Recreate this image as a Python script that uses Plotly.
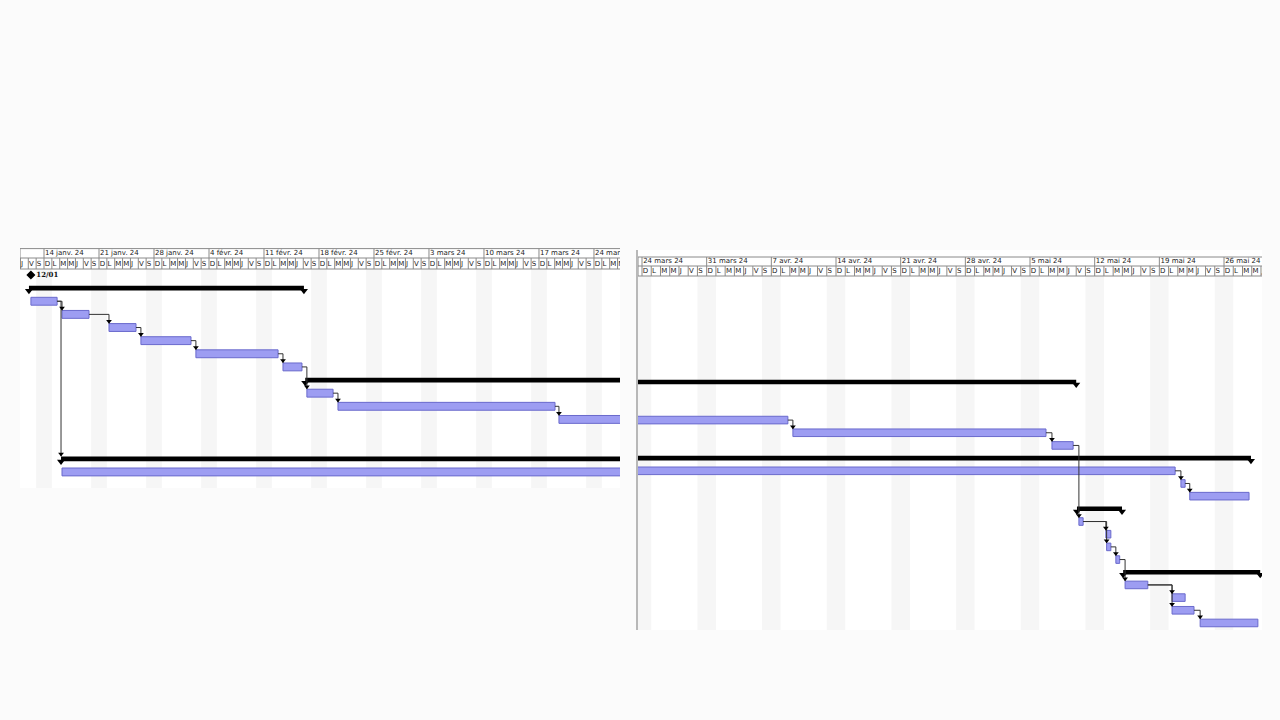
import pandas as pd
import plotly.graph_objects as go

# ---------------- data ----------------
task_rows = [2, 3, 4, 5, 6, 7, 9, 10, 11, 12, 13, 15, 16, 17, 19, 20, 21, 22, 24, 25, 26, 27]
task_start = ["2024-01-12 08:00", "2024-01-16 07:00", "2024-01-22 06:30", "2024-01-26 08:00",
              "2024-02-02 08:00", "2024-02-13 10:00", "2024-02-16 11:00", "2024-02-20 10:00",
              "2024-03-19 13:00", "2024-04-09 08:00", "2024-05-07 09:00", "2024-01-16 07:00",
              "2024-05-21 08:00", "2024-05-22 07:00", "2024-05-10 07:00", "2024-05-13 05:00",
              "2024-05-13 07:00", "2024-05-14 07:00", "2024-05-15 07:00", "2024-05-20 09:00",
              "2024-05-20 09:00", "2024-05-23 10:00"]
task_end = ["2024-01-15 16:00", "2024-01-19 17:30", "2024-01-25 17:00", "2024-02-01 17:00",
            "2024-02-12 19:00", "2024-02-15 20:00", "2024-02-19 19:00", "2024-03-19 01:00",
            "2024-04-08 19:00", "2024-05-06 17:30", "2024-05-09 16:00", "2024-05-20 17:00",
            "2024-05-21 19:00", "2024-05-28 17:00", "2024-05-10 18:00", "2024-05-13 18:00",
            "2024-05-13 18:00", "2024-05-14 17:00", "2024-05-17 18:00", "2024-05-21 19:00",
            "2024-05-22 18:00", "2024-05-29 16:00"]

summary_rows = [1, 8, 14, 18, 23]
summary_start = ["2024-01-12 02:00", "2024-02-16 06:00", "2024-01-16 04:00",
                 "2024-05-10 02:00", "2024-05-15 02:00"]
summary_end = ["2024-02-16 02:00", "2024-05-10 00:00", "2024-05-28 22:00",
               "2024-05-14 23:00", "2024-05-29 22:00"]

milestone_rows = [0]
milestone_dates = ["2024-01-12 08:00"]
milestone_labels = ["12/01"]

link_from = [2, 2, 3, 4, 5, 6, 7, 9, 10, 11, 12, 13, 15, 16, 19, 19, 21, 22, 24, 24, 26]
link_to = [3, 14, 4, 5, 6, 7, 9, 10, 11, 12, 13, 19, 16, 17, 20, 21, 22, 24, 25, 26, 27]

day_letters = ["L", "M", "M", "J", "V", "S", "D"]  # Monday .. Sunday
month_abbr = {1: "janv.", 2: "févr.", 3: "mars", 4: "avr.", 5: "mai", 6: "juin"}

# ---------------- helpers ----------------
ts = pd.to_datetime(task_start)
te = pd.to_datetime(task_end)
ss = pd.to_datetime(summary_start)
se = pd.to_datetime(summary_end)
md = pd.to_datetime(milestone_dates)

items = {}
for r, a, b in zip(task_rows, ts, te):
    items[r] = (a, b, "task")
for r, a, b in zip(summary_rows, ss, se):
    items[r] = (a, b, "summary")

W, H = 1280, 720
panels = [
    dict(xa="x", ya="y", xdom=(20, 620), ydom=(248, 488),
         xr=("2024-01-10 22:40", "2024-03-27 07:30"), y0px=275.0, pitch=13.13,
         hdr=(248.6, 258, 269), txt=(253, 264), border=False),
    dict(xa="x2", ya="y2", xdom=(638, 1262), ydom=(250, 630),
         xr=("2024-03-23 13:36", "2024-05-30 02:40"), y0px=280.6, pitch=12.68,
         hdr=(257, 266, 276), txt=(261.5, 271), border=True),
]

BAR_FILL = "#9d9df2"
BAR_LINE = "#6a6acc"

fig = go.Figure()
shapes = []
layout_axes = {}

for i, p in enumerate(panels):
    xa, ya = p["xa"], p["ya"]
    to_row = lambda px, p=p: (px - p["y0px"]) / p["pitch"]
    x0, x1 = pd.Timestamp(p["xr"][0]), pd.Timestamp(p["xr"][1])
    y_top, y_mid, y_bot = [to_row(v) for v in p["hdr"]]
    y_wtxt, y_dtxt = [to_row(v) for v in p["txt"]]
    y_lo = to_row(p["ydom"][1])
    y_hi = to_row(p["ydom"][0])

    first_day = x0.ceil("D")
    days = pd.date_range(first_day, x1, freq="D")

    # weekend shading (Saturday + Sunday)
    for d in pd.date_range(first_day - pd.Timedelta(days=1), x1, freq="D"):
        if d.dayofweek == 5:
            shapes.append(dict(type="rect", xref=xa, yref=ya, x0=d, x1=d + pd.Timedelta(days=2),
                               y0=y_bot, y1=y_lo, fillcolor="#f6f6f6", line=dict(width=0),
                               layer="below"))

    # header grid
    hx, hy = [], []
    for yy in (y_top, y_mid, y_bot):
        hx += [x0, x1, None]
        hy += [yy, yy, None]
    for d in days:
        hx += [d, d, None]
        hy += [y_mid, y_bot, None]
        if d.dayofweek == 6:
            hx += [d, d, None]
            hy += [y_top, y_mid, None]
    hx += [x0, x0, None]
    hy += [y_top, y_bot, None]
    fig.add_trace(go.Scatter(x=hx, y=hy, mode="lines", line=dict(color="#8a8a8a", width=1),
                             xaxis=xa, yaxis=ya, hoverinfo="skip", showlegend=False))

    # header texts
    sundays = [d for d in days if d.dayofweek == 6]
    fig.add_trace(go.Scatter(
        x=[d + pd.Timedelta(hours=3) for d in sundays], y=[y_wtxt] * len(sundays),
        text=[f"{d.day} {month_abbr[d.month]} 24" for d in sundays],
        mode="text", textposition="middle right",
        textfont=dict(family="DejaVu Sans", size=7, color="#222"),
        xaxis=xa, yaxis=ya, hoverinfo="skip", showlegend=False, cliponaxis=True))
    fig.add_trace(go.Scatter(
        x=[d + pd.Timedelta(hours=2) for d in days], y=[y_dtxt] * len(days),
        text=[day_letters[d.dayofweek] for d in days],
        mode="text", textposition="middle right",
        textfont=dict(family="DejaVu Sans", size=7, color="#222"),
        xaxis=xa, yaxis=ya, hoverinfo="skip", showlegend=False, cliponaxis=True))

    # summary bars
    fig.add_trace(go.Bar(
        y=summary_rows, base=list(ss), x=[(b - a).total_seconds() * 1000 for a, b in zip(ss, se)],
        orientation="h", width=0.36, marker=dict(color="black", line=dict(width=0)),
        xaxis=xa, yaxis=ya, hoverinfo="skip", showlegend=False))
    tri_x = list(ss) + list(se)
    tri_y = [r + 0.2 for r in summary_rows] * 2
    fig.add_trace(go.Scatter(x=tri_x, y=tri_y, mode="markers",
                             marker=dict(symbol="triangle-down", size=7, color="black"),
                             xaxis=xa, yaxis=ya, hoverinfo="skip", showlegend=False))

    # links
    lx, ly, ax, ay = [], [], [], []
    for f, t in zip(link_from, link_to):
        fs, fe, _ = items[f]
        tsd, _, kind = items[t]
        ty = t - (0.2 if kind == "summary" else 0.31)
        lx += [fe, tsd, tsd, None]
        ly += [f, f, ty, None]
        ax.append(tsd)
        ay.append(ty - 0.17)
    fig.add_trace(go.Scatter(x=lx, y=ly, mode="lines", line=dict(color="#333", width=1),
                             xaxis=xa, yaxis=ya, hoverinfo="skip", showlegend=False))
    fig.add_trace(go.Scatter(x=ax, y=ay, mode="markers",
                             marker=dict(symbol="triangle-down", size=5, color="black"),
                             xaxis=xa, yaxis=ya, hoverinfo="skip", showlegend=False))

    # task bars
    fig.add_trace(go.Bar(
        y=task_rows, base=list(ts), x=[(b - a).total_seconds() * 1000 for a, b in zip(ts, te)],
        orientation="h", width=0.6,
        marker=dict(color=BAR_FILL, line=dict(color=BAR_LINE, width=1)),
        xaxis=xa, yaxis=ya, hoverinfo="skip", showlegend=False))

    # milestone (only in the panel whose range contains it)
    keep = [(d, r, s) for d, r, s in zip(md, milestone_rows, milestone_labels) if x0 <= d <= x1]
    if keep:
        fig.add_trace(go.Scatter(
            x=[k[0] for k in keep], y=[k[1] for k in keep],
            text=[f"<b>{k[2]}</b>" for k in keep],
            mode="markers+text", textposition="middle right",
            textfont=dict(family="DejaVu Serif", size=7, color="#111"),
            marker=dict(symbol="diamond", size=7, color="black"),
            xaxis=xa, yaxis=ya, hoverinfo="skip", showlegend=False))

    xkey = "xaxis" if i == 0 else "xaxis2"
    ykey = "yaxis" if i == 0 else "yaxis2"
    layout_axes[xkey] = dict(type="date", domain=[p["xdom"][0] / W, p["xdom"][1] / W],
                             range=[x0, x1], anchor=ya, showgrid=False, zeroline=False,
                             showticklabels=False, ticks="", showline=False)
    layout_axes[ykey] = dict(domain=[1 - p["ydom"][1] / H, 1 - p["ydom"][0] / H],
                             range=[y_lo, y_hi], anchor=xa, showgrid=False, zeroline=False,
                             showticklabels=False, ticks="",
                             showline=p["border"], linecolor="#b8b8b8", linewidth=2)

fig.update_layout(
    width=W, height=H, margin=dict(l=0, r=0, t=0, b=0),
    paper_bgcolor="#fbfbfb", plot_bgcolor="white",
    barmode="overlay", showlegend=False, shapes=shapes,
    **layout_axes,
)

fig.write_html("out.html")
